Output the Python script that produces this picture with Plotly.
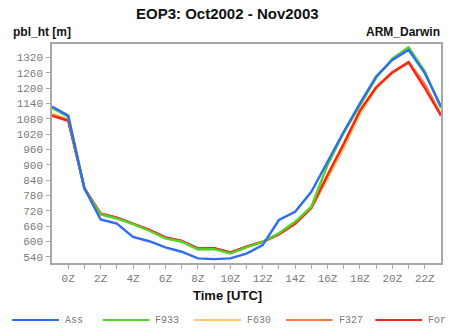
import plotly.graph_objects as go

# Hours (UTC); -1 repeats 23Z so the diurnal cycle wraps across the frame
hours = list(range(-1, 24))

ass = [1128, 1092, 808, 686, 670, 618, 601, 577, 560, 534, 531, 534, 553,
       586, 684, 716, 794, 912, 1029, 1140, 1245, 1310, 1349, 1258, 1128]
f933 = [1122, 1088, 805, 706, 690, 668, 642, 612, 599, 569, 570, 553, 577,
        599, 632, 677, 736, 899, 1025, 1135, 1240, 1315, 1360, 1265, 1122]
f630 = [1100, 1078, 807, 708, 692, 670, 645, 615, 601, 572, 573, 556, 579,
        598, 628, 668, 728, 845, 965, 1098, 1198, 1258, 1300, 1212, 1098]
f327 = [1094, 1074, 808, 709, 693, 671, 646, 616, 602, 573, 574, 557, 580,
        599, 629, 670, 732, 858, 980, 1110, 1202, 1260, 1302, 1215, 1094]
fore = [1092, 1072, 808, 709, 693, 671, 646, 616, 602, 573, 574, 557, 580,
        599, 629, 670, 732, 860, 982, 1112, 1203, 1262, 1300, 1200, 1092]

series_names = ["Ass", "F933", "F630", "F327", "For"]
series_values = [ass, f933, f630, f327, fore]
series_colors = ["#2f6cf5", "#4fd62a", "#ffc866", "#ff7a3a", "#f0281e"]

x_tickvals = list(range(0, 23))
x_ticktext = [f"{h}Z" if h % 2 == 0 else "" for h in x_tickvals]
y_tickvals = list(range(540, 1321, 60))

W, H = 449, 330
L, R, T, B = 52, 6, 44, 67
pw, ph = W - L - R, H - T - B

def px(x):
    return (x - L) / pw

def py(y):
    return (H - B - y) / ph

fig = go.Figure()

# draw order: forecasts first, observed (Ass) on top
for i in [2, 3, 4, 1, 0]:
    fig.add_trace(go.Scatter(
        x=hours, y=series_values[i], mode="lines", name=series_names[i],
        line=dict(color=series_colors[i], width=2.4), showlegend=False))

axis_common = dict(
    showgrid=False, zeroline=False, showline=True, mirror=True,
    linecolor="#a8a8a8", linewidth=1.5, ticks="outside", ticklen=4,
    tickcolor="#a8a8a8", tickwidth=1,
    tickfont=dict(family="Liberation Mono, monospace", size=11, color="#7a7a7a"),
)

fig.update_xaxes(range=[-1, 23], tickvals=x_tickvals, ticktext=x_ticktext,
                 **axis_common)
fig.update_yaxes(range=[516, 1372], tickvals=y_tickvals, ticklabelstandoff=1,
                 **axis_common)

annotations = [
    dict(text="<b>EOP3: Oct2002 - Nov2003</b>", x=px(228), y=py(14),
         xanchor="center", yanchor="middle",
         font=dict(family="Liberation Sans, Arial", size=15, color="#111")),
    dict(text="<b>pbl_ht [m]</b>", x=px(11), y=py(32),
         xanchor="left", yanchor="middle",
         font=dict(family="Liberation Sans, Arial", size=12, color="#111")),
    dict(text="<b>ARM_Darwin</b>", x=px(444), y=py(32),
         xanchor="right", yanchor="middle",
         font=dict(family="Liberation Sans, Arial", size=12, color="#111")),
    dict(text="<b>Time [UTC]</b>", x=px(228), y=py(295),
         xanchor="center", yanchor="middle",
         font=dict(family="Liberation Sans, Arial", size=13, color="#111")),
]

# legend row beneath the axis
shapes = []
leg_y = 320
leg_x0 = [12, 103, 195, 287, 377]
for i, name in enumerate(series_names):
    x0 = leg_x0[i]
    shapes.append(dict(type="line", xref="paper", yref="paper",
                       x0=px(x0), x1=px(x0 + 47), y0=py(leg_y), y1=py(leg_y),
                       line=dict(color=series_colors[i], width=2.2)))
    annotations.append(dict(
        text=name, x=px(x0 + 51), y=py(leg_y), xanchor="left", yanchor="middle",
        font=dict(family="Liberation Mono, monospace", size=10, color="#7a7a7a")))

for a in annotations:
    a.update(xref="paper", yref="paper", showarrow=False)

fig.update_layout(
    width=W, height=H,
    margin=dict(l=L, r=R, t=T, b=B),
    paper_bgcolor="white", plot_bgcolor="white",
    annotations=annotations, shapes=shapes,
    showlegend=False,
)

fig.write_html("out.html")
